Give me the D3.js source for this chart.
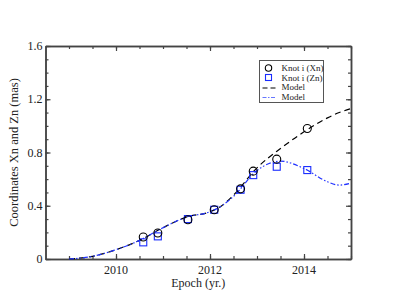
<!DOCTYPE html>
<html>
<head>
<meta charset="utf-8">
<script src="https://cdn.jsdelivr.net/npm/d3@7"></script>
<style>
body { margin: 0; background: #fff; }
svg text { font-family: "Liberation Serif", "DejaVu Serif", serif; fill: #222; }
</style>
</head>
<body>
<div id="p"></div>
<script>
// knot positions
var epochs = [2010.58, 2010.89, 2011.53, 2012.09, 2012.65, 2012.92, 2013.42, 2014.07];
var xnVals = [0.165, 0.195, 0.295, 0.37, 0.527, 0.66, 0.75, 0.98];
var znVals = [0.125, 0.17, 0.30, 0.37, 0.52, 0.63, 0.693, 0.668];

// model curves
var modelX = [2009.0, 2009.5, 2010.0, 2010.5, 2011.0, 2011.5, 2012.0, 2012.25, 2012.5, 2013.0, 2013.5, 2014.0, 2014.5, 2014.75, 2015.0];
var modelXn = [0.0, 0.02, 0.07, 0.14, 0.235, 0.315, 0.355, 0.40, 0.48, 0.685, 0.83, 0.955, 1.06, 1.10, 1.13];
var modelZn = [0.0, 0.02, 0.07, 0.14, 0.235, 0.315, 0.355, 0.40, 0.47, 0.665, 0.735, 0.68, 0.58, 0.555, 0.57];

var xTicks = [2010, 2012, 2014];
var yTicks = [0, 0.4, 0.8, 1.2, 1.6];
var yLabels = ["0", "0.4", "0.8", "1.2", "1.6"];

var W = 395, H = 305;
var m = {left: 45.5, right: 44, top: 46, bottom: 46};

var svg = d3.select("#p").append("svg")
    .attr("width", W)
    .attr("height", H);

var x = d3.scaleLinear().domain([2008.5, 2015]).range([m.left, W - m.right]);
var y = d3.scaleLinear().domain([0, 1.6]).range([H - m.bottom, m.top]);

var axisCol = "#444";

// frame with inward ticks on all four sides
var xMinor = d3.range(2009, 2015.01, 0.5);
var yMinor = d3.range(0, 1.601, 0.1);

function drawAxis(gen, tr, vals, size) {
  var g = svg.append("g").attr("transform", tr)
    .call(gen.tickValues(vals).tickSize(size).tickSizeOuter(0).tickFormat(""));
  g.selectAll("line").attr("stroke", axisCol).attr("stroke-width", 1.2);
  g.select(".domain").attr("stroke", axisCol).attr("stroke-width", 1.5);
  return g;
}

var by = y(0), ty = y(1.6), lx = x(2008.5), rx = x(2015);

drawAxis(d3.axisTop(x), "translate(0," + by + ")", xMinor, 3);
drawAxis(d3.axisTop(x), "translate(0," + by + ")", xTicks, 5);
drawAxis(d3.axisBottom(x), "translate(0," + ty + ")", xMinor, 3);
drawAxis(d3.axisBottom(x), "translate(0," + ty + ")", xTicks, 5);
drawAxis(d3.axisRight(y), "translate(" + lx + ",0)", yMinor, 3);
drawAxis(d3.axisRight(y), "translate(" + lx + ",0)", yTicks, 5);
drawAxis(d3.axisLeft(y), "translate(" + rx + ",0)", yMinor, 3);
drawAxis(d3.axisLeft(y), "translate(" + rx + ",0)", yTicks, 5);

// tick labels
svg.selectAll(".xl").data(xTicks).enter().append("text")
    .attr("x", function(d) { return x(d); })
    .attr("y", by + 15)
    .attr("text-anchor", "middle")
    .attr("font-size", "12px")
    .text(function(d) { return d; });

svg.selectAll(".yl").data(yTicks).enter().append("text")
    .attr("x", lx - 3)
    .attr("y", function(d) { return y(d) + 4; })
    .attr("text-anchor", "end")
    .attr("font-size", "12px")
    .text(function(d, i) { return yLabels[i]; });

svg.append("text")
    .attr("x", (lx + rx) / 2)
    .attr("y", by + 28)
    .attr("text-anchor", "middle")
    .attr("font-size", "12px")
    .text("Epoch (yr.)");

svg.append("text")
    .attr("transform", "translate(18," + ((by + ty) / 2) + ") rotate(-90)")
    .attr("text-anchor", "middle")
    .attr("font-size", "12.5px")
    .text("Coordinates Xn and Zn (mas)");

// model lines
var line = d3.line()
    .x(function(d) { return x(d[0]); })
    .y(function(d) { return y(d[1]); })
    .curve(d3.curveMonotoneX);

svg.append("path")
    .attr("d", line(d3.zip(modelX, modelXn)))
    .attr("fill", "none")
    .attr("stroke", "#000")
    .attr("stroke-width", 1.2)
    .attr("stroke-dasharray", "6,4");

svg.append("path")
    .attr("d", line(d3.zip(modelX, modelZn)))
    .attr("fill", "none")
    .attr("stroke", "#2233ff")
    .attr("stroke-width", 1.2)
    .attr("stroke-dasharray", "5,2,1.5,2,1.5,2");

// knots
svg.selectAll(".sq").data(d3.zip(epochs, znVals)).enter().append("rect")
    .attr("x", function(d) { return x(d[0]) - 3.5; })
    .attr("y", function(d) { return y(d[1]) - 3.5; })
    .attr("width", 7)
    .attr("height", 7)
    .attr("fill", "none")
    .attr("stroke", "#1a2cff")
    .attr("stroke-width", 1.1);

svg.selectAll(".ci").data(d3.zip(epochs, xnVals)).enter().append("circle")
    .attr("cx", function(d) { return x(d[0]); })
    .attr("cy", function(d) { return y(d[1]); })
    .attr("r", 4)
    .attr("fill", "none")
    .attr("stroke", "#000")
    .attr("stroke-width", 1.1);

// legend
var lg = svg.append("g").attr("transform", "translate(259.5,60.5)");
lg.append("rect").attr("width", 64).attr("height", 42)
    .attr("fill", "#fff").attr("stroke", "#555").attr("stroke-width", 1);
var labels = ["Knot i (Xn)", "Knot i (Zn)", "Model", "Model"];
lg.selectAll("text").data(labels).enter().append("text")
    .attr("x", 22)
    .attr("y", function(d, i) { return 10.5 + i * 9.7; })
    .attr("font-size", "9px")
    .text(function(d) { return d; });
lg.append("circle").attr("cx", 9).attr("cy", 7.5).attr("r", 3.2)
    .attr("fill", "none").attr("stroke", "#000").attr("stroke-width", 1.1);
lg.append("rect").attr("x", 6).attr("y", 14).attr("width", 6).attr("height", 6)
    .attr("fill", "none").attr("stroke", "#1a2cff").attr("stroke-width", 1.1);
lg.append("line").attr("x1", 3).attr("x2", 16).attr("y1", 27.5).attr("y2", 27.5)
    .attr("stroke", "#000").attr("stroke-width", 1.2).attr("stroke-dasharray", "5,3");
lg.append("line").attr("x1", 3).attr("x2", 16).attr("y1", 37).attr("y2", 37)
    .attr("stroke", "#6677ff").attr("stroke-width", 1.2).attr("stroke-dasharray", "4,1.5,1.5,1.5");
</script>
</body>
</html>
